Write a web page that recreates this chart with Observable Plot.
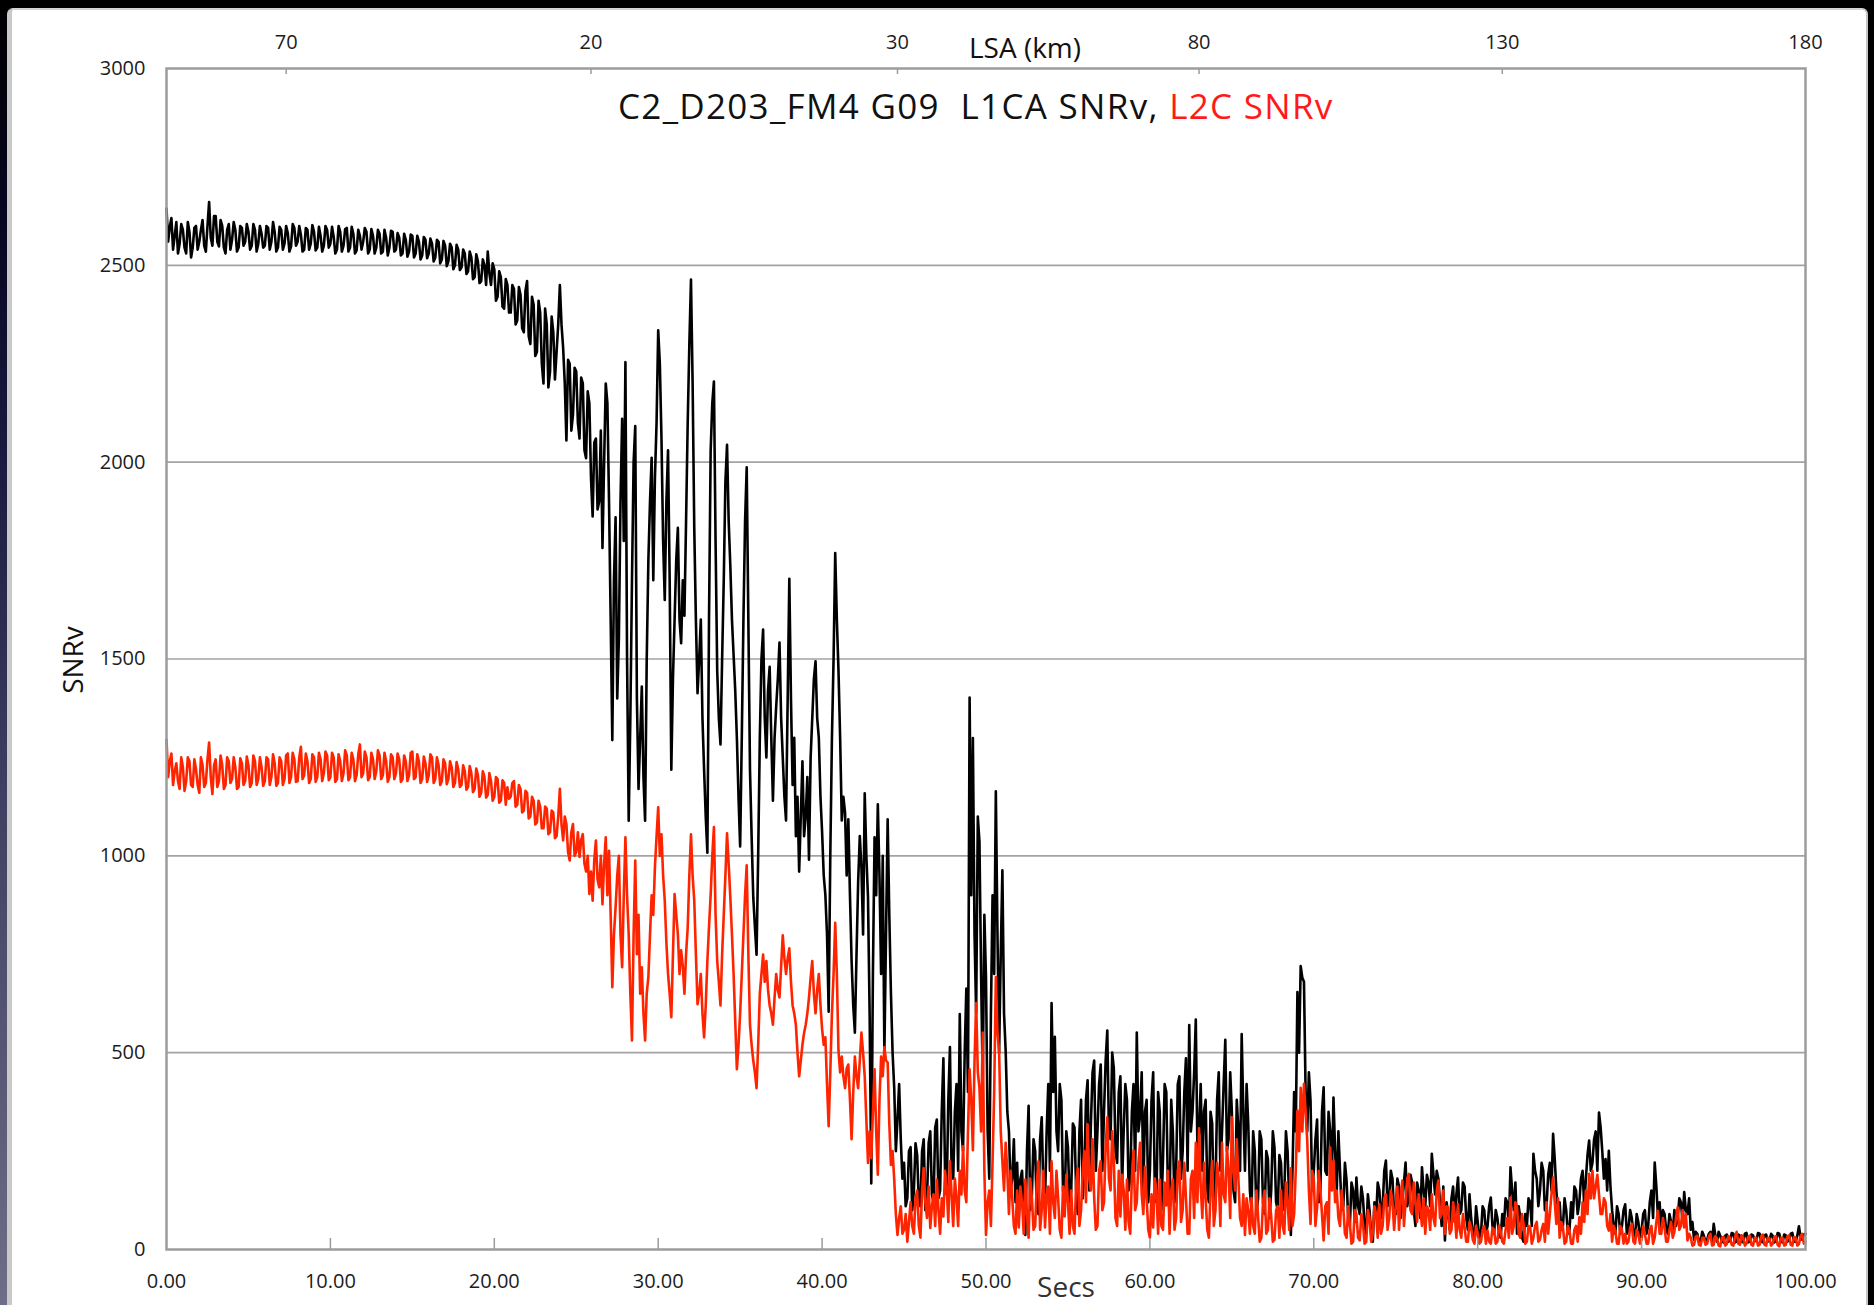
<!DOCTYPE html>
<html>
<head>
<meta charset="utf-8">
<script src="https://cdn.jsdelivr.net/npm/d3@7"></script>
<script src="https://cdn.jsdelivr.net/npm/@observablehq/plot@0.6"></script>
<style>
html,body{margin:0;padding:0;background:#000;}
body{width:1874px;height:1305px;position:relative;overflow:hidden;font-family:"Open Sans",sans-serif;}
#strip{position:absolute;left:0;top:0;width:8px;height:1305px;background:linear-gradient(#000 0%,#05051e 15%,#1a1a40 35%,#3e3e60 60%,#6e6e88 100%);}
#panel{position:absolute;left:7px;top:8px;width:1861px;height:1310px;background:#fff;border-left:5px solid #c9c9c9;border-top:2px solid #d4d4d4;border-right:2px solid #c4c4c4;border-radius:6px 6px 0 0;box-sizing:border-box;}
#chart{position:absolute;left:0;top:0;}
.lbl{position:absolute;color:#111;white-space:nowrap;line-height:1;}
</style>
</head>
<body>
<div id="strip"></div>
<div id="panel"></div>
<div id="chart"></div>
<div class="lbl" id="title" style="left:618px;top:88px;font-size:35px;letter-spacing:1.3px;">C2_D203_FM4 G09&nbsp; L1CA SNRv, <span style="color:#ff1a1a">L2C SNRv</span></div>
<div class="lbl" style="left:1025px;top:33px;font-size:28px;transform:translateX(-50%);">LSA (km)</div>
<div class="lbl" style="left:1066px;top:1272px;font-size:28px;color:#333;transform:translateX(-50%);">Secs</div>
<div class="lbl" style="left:72px;top:660px;font-size:28px;transform:translate(-50%,-50%) rotate(-90deg);">SNRv</div>
<script>
// sample spacing in seconds: "on" samples at 0.0, 0.2, … 100.0 and
// "mid" samples at 0.1, 0.3, … 99.9 (one row per second)
const dt = 0.2;

// L1CA SNRv (black), samples at whole steps
const l1caSnr = [
  2644, 2598, 2540, 2610, 2555,
  2590, 2530, 2585, 2545, 2600,
  2560, 2615, 2535, 2661, 2550,
  2625, 2548, 2600, 2530, 2605,
  2565, 2590, 2545, 2595, 2560,
  2585, 2550, 2590, 2555, 2580,
  2550, 2595, 2560, 2585, 2545,
  2590, 2555, 2582, 2548, 2595,
  2560, 2578, 2540, 2590, 2555,
  2585, 2545, 2575, 2550, 2590,
  2555, 2572, 2540, 2585, 2550,
  2595, 2545, 2580, 2538, 2575,
  2560, 2585, 2540, 2575, 2545,
  2580, 2535, 2570, 2545, 2585,
  2540, 2570, 2530, 2565, 2535,
  2575, 2530, 2560, 2525, 2565,
  2530, 2555, 2520, 2560, 2515,
  2550, 2510, 2545, 2500, 2540,
  2495, 2530, 2485, 2520, 2470,
  2510, 2460, 2500, 2535, 2450,
  2490, 2420, 2470, 2390, 2450,
  2380, 2440, 2360, 2425, 2330,
  2460, 2300, 2400, 2280, 2380,
  2200, 2350, 2230, 2330, 2280,
  2450, 2290, 2055, 2250, 2120,
  2230, 2060, 2200, 2010, 2150,
  1862, 2060, 1900, 1782, 2200,
  1900, 1294, 1860, 1550, 2110,
  2254, 1089, 1700, 2092, 1170,
  1430, 1089, 1750, 2011, 1960,
  2335, 2060, 1650, 2030, 1219,
  1600, 1833, 1540, 1610, 2100,
  2464, 1833, 1413, 1600, 1219,
  1008, 2028, 2205, 1470, 1283,
  1700, 2044, 1737, 1510, 1300,
  1024, 1600, 1987, 1219, 895,
  749, 1300, 1575, 1250, 1480,
  1140, 1380, 1542, 1250, 1090,
  1704, 1180, 1050, 960, 1240,
  1100, 990, 1350, 1494, 1300,
  1060, 900, 604, 1300, 1769,
  1470, 1090, 1110, 1093, 733,
  551, 935, 970, 1159, 895,
  168, 1047, 1131, 700, 500,
  1093, 650, 411, 330, 280,
  220, 130, 260, 150, 240,
  110, 280, 130, 300, 120,
  330, 150, 486, 140, 514,
  180, 420, 598, 250, 663,
  1402, 1299, 600, 1037, 420,
  691, 180, 900, 1164, 500,
  963, 505, 300, 180, 120,
  80, 200, 37, 365, 140,
  250, 90, 336, 120, 420,
  626, 540, 250, 380, 120,
  260, 150, 310, 90, 380,
  200, 430, 320, 480, 300,
  470, 350, 556, 280, 460,
  220, 440, 300, 380, 180,
  420, 551, 340, 150, 380,
  200, 450, 120, 350, 230,
  400, 110, 300, 200, 440,
  250, 486, 570, 350, 584,
  300, 200, 380, 120, 320,
  150, 450, 300, 533, 280,
  350, 120, 300, 547, 200,
  320, 100, 250, 130, 280,
  90, 230, 150, 260, 100,
  220, 140, 250, 37, 400,
  654, 720, 680, 300, 378,
  200, 330, 150, 412, 190,
  300, 386, 150, 200, 110,
  175, 60, 150, 183, 90,
  130, 40, 100, 20, 80,
  150, 110, 226, 130, 180,
  90, 160, 120, 221, 140,
  170, 60, 150, 209, 110,
  170, 243, 140, 180, 60,
  23, 90, 130, 70, 183,
  100, 160, 50, 80, 30,
  70, 40, 100, 60, 132,
  40, 80, 30, 60, 120,
  209, 100, 40, 80, 20,
  60, 120, 243, 180, 150,
  200, 110, 220, 294, 150,
  120, 60, 100, 50, 80,
  150, 120, 200, 180, 277,
  220, 300, 348, 250, 230,
  251, 100, 40, 90, 60,
  115, 50, 80, 30, 70,
  50, 100, 60, 150, 221,
  80, 50, 90, 40, 70,
  100, 80, 120, 146, 90,
  50, 25, 40, 20, 35,
  25, 45, 65, 20, 35,
  18, 38, 22, 40, 20,
  35, 18, 42, 20, 36,
  22, 40, 18, 38, 20,
  35, 22, 40, 18, 36,
  24, 42, 20, 59, 25,
  40
];

// L1CA SNRv (black), mid samples
const l1caMid = [
  2560, 2620, 2575, 2530, 2605,
  2545, 2610, 2520, 2595, 2540,
  2590, 2550, 2600, 2570, 2625,
  2560, 2615, 2545, 2590, 2540,
  2610, 2535, 2600, 2550, 2605,
  2540, 2605, 2535, 2600, 2545,
  2600, 2540, 2610, 2535, 2598,
  2540, 2600, 2535, 2605, 2550,
  2600, 2535, 2595, 2540, 2602,
  2538, 2598, 2535, 2600, 2545,
  2598, 2530, 2600, 2535, 2592,
  2535, 2598, 2530, 2590, 2540,
  2595, 2530, 2592, 2530, 2590,
  2530, 2590, 2525, 2588, 2535,
  2582, 2525, 2580, 2522, 2578,
  2520, 2575, 2515, 2572, 2518,
  2568, 2510, 2565, 2505, 2562,
  2498, 2555, 2490, 2552, 2488,
  2540, 2478, 2535, 2465, 2528,
  2455, 2515, 2450, 2480, 2505,
  2410, 2485, 2395, 2465, 2380,
  2450, 2350, 2445, 2340, 2435,
  2320, 2420, 2270, 2410, 2250,
  2390, 2190, 2370, 2210, 2350,
  2350, 2200, 2260, 2080, 2240,
  2100, 2215, 2030, 2180, 1960,
  2050, 1880, 2080, 2000, 2150,
  1600, 1700, 1400, 1900, 1800,
  1500, 1350, 2000, 1400, 1300,
  1200, 1500, 1900, 1700, 2100,
  2250, 1800, 1900, 1700, 1450,
  1750, 1600, 1700, 1850, 2300,
  2200, 1600, 1500, 1350, 1100,
  1600, 2150, 1800, 1350, 1500,
  1950, 1850, 1600, 1420, 1150,
  1300, 1850, 1600, 1050, 820,
  1000, 1500, 1350, 1420, 1300,
  1300, 1450, 1350, 1150, 1400,
  1400, 1300, 1150, 1100, 1050,
  1200, 1250, 1450, 1350, 1150,
  950, 800, 1000, 1500, 1600,
  1300, 1150, 950, 900, 620,
  750, 1050, 800, 1000, 600,
  700, 900, 950, 1000, 800,
  850, 500, 250, 420, 180,
  110, 250, 100, 270, 120,
  250, 100, 270, 140, 310,
  130, 350, 200, 380, 200,
  350, 200, 300, 500, 400,
  900, 800, 1100, 700, 850,
  300, 600, 700, 800, 750,
  600, 350, 150, 280, 220,
  180, 90, 250, 100, 280,
  100, 280, 150, 300, 200,
  400, 300, 420, 150, 300,
  120, 320, 150, 300, 130,
  380, 150, 450, 200, 420,
  200, 480, 300, 500, 250,
  400, 160, 420, 150, 350,
  200, 300, 450, 350, 120,
  380, 150, 400, 100, 420,
  150, 380, 120, 420, 180,
  400, 200, 300, 450, 250,
  420, 350, 150, 350, 100,
  380, 200, 420, 250, 450,
  150, 380, 200, 350, 420,
  150, 300, 90, 300, 120,
  250, 80, 300, 120, 240,
  100, 300, 120, 200, 300,
  500, 690, 400, 450, 150,
  280, 120, 350, 200, 350,
  180, 250, 300, 100, 220,
  80, 170, 70, 110, 160,
  60, 140, 40, 120, 170,
  80, 200, 110, 200, 90,
  180, 80, 170, 110, 190,
  100, 170, 80, 150, 190,
  110, 190, 200, 120, 160,
  120, 50, 160, 140, 90,
  170, 80, 140, 40, 110,
  30, 110, 40, 110, 60,
  100, 40, 90, 130, 60,
  150, 170, 110, 30, 90,
  130, 60, 200, 110, 220,
  100, 190, 150, 230, 90,
  50, 130, 40, 120, 160,
  90, 180, 110, 240, 200,
  280, 200, 310, 180, 150,
  160, 60, 110, 40, 100,
  40, 100, 40, 90, 30,
  90, 40, 120, 80, 160,
  120, 100, 50, 90, 40,
  60, 130, 70, 100, 130,
  70, 45, 20, 45, 18,
  40, 20, 35, 45, 20,
  35, 20, 42, 18, 38,
  20, 40, 18, 38, 22,
  42, 20, 36, 22, 40,
  18, 42, 20, 38, 20,
  40, 20, 35, 30, 38
];

// L2C SNRv (red), samples at whole steps
const l2cSnr = [
  1295, 1240, 1180, 1235, 1170,
  1225, 1190, 1240, 1175, 1220,
  1160, 1230, 1185, 1288, 1157,
  1245, 1190, 1230, 1180, 1240,
  1195, 1225, 1175, 1235, 1190,
  1230, 1185, 1240, 1195, 1225,
  1190, 1245, 1200, 1235, 1185,
  1240, 1195, 1260, 1200, 1245,
  1190, 1277, 1205, 1240, 1195,
  1250, 1200, 1245, 1210, 1255,
  1200, 1250, 1195, 1240, 1210,
  1255, 1200, 1245, 1205, 1283,
  1210, 1250, 1200, 1245, 1215,
  1255, 1205, 1240, 1200, 1250,
  1210, 1245, 1195, 1240, 1205,
  1265, 1200, 1240, 1195, 1235,
  1205, 1250, 1195, 1230, 1190,
  1235, 1195, 1225, 1185, 1220,
  1180, 1215, 1175, 1210, 1170,
  1205, 1160, 1200, 1155, 1190,
  1150, 1195, 1140, 1185, 1174,
  1150, 1190, 1130, 1170, 1115,
  1160, 1100, 1140, 1085, 1125,
  1070, 1120, 1060, 1110, 1050,
  1170, 1039, 1080, 988, 1081,
  1010, 997, 1055, 960, 903,
  886, 1039, 920, 877, 1047,
  1013, 666, 869, 1000, 717,
  1047, 800, 531, 988, 850,
  717, 531, 692, 900, 971,
  1123, 1055, 886, 700, 590,
  903, 801, 760, 650, 818,
  1055, 886, 623, 700, 539,
  733, 900, 1073, 733, 620,
  850, 1057, 895, 700, 458,
  600, 800, 976, 571, 480,
  410, 650, 749, 733, 620,
  571, 700, 640, 798, 700,
  765, 620, 571, 440, 520,
  571, 640, 733, 600, 700,
  560, 539, 313, 600, 830,
  505, 490, 410, 470, 280,
  490, 410, 551, 440, 220,
  232, 458, 190, 490, 514,
  475, 215, 178, 37, 110,
  50, 20, 120, 40, 150,
  30, 206, 80, 55, 140,
  178, 40, 84, 160, 224,
  60, 131, 200, 262, 120,
  458, 252, 626, 411, 551,
  37, 150, 224, 692, 505,
  224, 271, 90, 131, 40,
  56, 120, 178, 30, 131,
  60, 224, 100, 56, 160,
  224, 80, 131, 30, 84,
  120, 150, 40, 206, 100,
  250, 318, 150, 131, 60,
  224, 120, 336, 150, 224,
  60, 84, 150, 178, 40,
  252, 120, 271, 90, 131,
  30, 56, 150, 178, 50,
  112, 40, 178, 80, 224,
  100, 131, 40, 200, 271,
  308, 80, 131, 30, 224,
  100, 180, 271, 120, 200,
  336, 150, 178, 60, 37,
  100, 131, 40, 84, 30,
  150, 50, 84, 25, 110,
  150, 40, 120, 206, 90,
  353, 411, 421, 277, 65,
  178, 107, 150, 23, 120,
  259, 225, 150, 60, 107,
  30, 65, 20, 90, 23,
  65, 20, 80, 40, 90,
  115, 60, 140, 80, 120,
  107, 50, 175, 120, 192,
  90, 125, 140, 60, 40,
  100, 140, 60, 175, 90,
  40, 107, 50, 90, 115,
  30, 56, 20, 56, 15,
  40, 20, 60, 48, 15,
  50, 20, 48, 15, 80,
  132, 60, 107, 30, 65,
  20, 56, 30, 70, 25,
  65, 120, 90, 183, 65,
  30, 56, 20, 48, 15,
  60, 82, 120, 150, 192,
  200, 160, 140, 90, 120,
  48, 20, 48, 15, 50,
  40, 20, 65, 15, 40,
  25, 40, 15, 60, 30,
  98, 40, 56, 20, 70,
  45, 107, 60, 56, 23,
  30, 12, 35, 10, 30,
  15, 40, 12, 28, 8,
  32, 14, 30, 10, 45,
  12, 30, 15, 35, 10,
  30, 12, 38, 10, 28,
  15, 34, 8, 30, 12,
  36, 10, 30, 14, 40,
  20
];

// L2C SNRv (red), mid samples
const l2cMid = [
  1200, 1260, 1215, 1190, 1250,
  1165, 1250, 1180, 1245, 1180,
  1250, 1175, 1245, 1200, 1230,
  1175, 1255, 1170, 1250, 1185,
  1250, 1170, 1248, 1180, 1252,
  1175, 1255, 1180, 1250, 1178,
  1250, 1180, 1258, 1178, 1250,
  1180, 1255, 1185, 1262, 1188,
  1250, 1195, 1260, 1185, 1258,
  1188, 1262, 1190, 1265, 1192,
  1262, 1188, 1258, 1190, 1268,
  1192, 1262, 1190, 1258, 1200,
  1265, 1192, 1262, 1195, 1268,
  1195, 1262, 1188, 1258, 1195,
  1260, 1188, 1255, 1190, 1262,
  1195, 1258, 1185, 1252, 1188,
  1258, 1185, 1250, 1180, 1245,
  1182, 1240, 1175, 1238, 1175,
  1230, 1168, 1228, 1162, 1222,
  1150, 1215, 1148, 1210, 1140,
  1200, 1135, 1192, 1130, 1145,
  1185, 1125, 1180, 1110, 1165,
  1095, 1150, 1080, 1140, 1070,
  1125, 1055, 1115, 1045, 1100,
  1080, 1100, 1010, 1060, 1000,
  1060, 1040, 980, 1000, 960,
  990, 940, 1000, 980, 900,
  850, 800, 950, 800, 900,
  900, 650, 800, 750, 650,
  600, 650, 800, 850, 1050,
  1000, 950, 780, 650, 750,
  850, 700, 720, 750, 950,
  950, 750, 650, 600, 620,
  820, 1000, 850, 680, 750,
  950, 980, 800, 580, 520,
  700, 900, 750, 520, 450,
  520, 700, 680, 660, 600,
  640, 660, 720, 740, 740,
  680, 600, 500, 480, 550,
  600, 690, 650, 660, 620,
  520, 420, 450, 700, 700,
  450, 440, 460, 380, 400,
  440, 480, 500, 330, 300,
  350, 300, 380, 440, 480,
  320, 250, 90, 80, 40,
  90, 70, 60, 130, 60,
  150, 120, 160, 110, 60,
  100, 130, 200, 70, 140,
  180, 60, 140, 150, 300,
  380, 480, 450, 300, 200,
  120, 60, 400, 550, 300,
  150, 200, 200, 60, 150,
  160, 40, 90, 180, 50,
  170, 50, 200, 140, 40,
  120, 200, 50, 160, 190,
  40, 60, 170, 60, 200,
  120, 180, 280, 50, 200,
  100, 260, 180, 300, 80,
  200, 190, 50, 70, 180,
  100, 220, 140, 210, 50,
  140, 180, 40, 60, 170,
  200, 150, 50, 200, 70,
  220, 40, 180, 80, 120,
  160, 220, 50, 150, 60,
  220, 60, 140, 260, 80,
  200, 280, 80, 140, 130,
  40, 60, 150, 20, 120,
  40, 130, 20, 100, 30,
  60, 170, 50, 60, 200,
  250, 300, 350, 150, 200,
  60, 200, 90, 110, 40,
  150, 120, 80, 150, 40,
  110, 15, 100, 30, 90,
  15, 100, 20, 110, 30,
  40, 130, 50, 150, 50,
  160, 130, 60, 180, 100,
  170, 70, 100, 130, 110,
  50, 80, 150, 80, 150,
  110, 40, 120, 30, 50,
  90, 20, 70, 25, 60,
  15, 50, 15, 20, 55,
  15, 60, 20, 50, 30,
  40, 120, 40, 90, 15,
  60, 15, 60, 20, 50,
  20, 40, 140, 120, 130,
  70, 15, 60, 15, 50,
  20, 40, 70, 90, 130,
  130, 190, 90, 130, 60,
  90, 60, 15, 60, 15,
  15, 55, 20, 50, 15,
  60, 15, 50, 15, 70,
  40, 80, 20, 50, 30,
  80, 50, 100, 90, 40,
  10, 32, 12, 30, 12,
  32, 10, 34, 10, 30,
  10, 34, 12, 32, 15,
  36, 10, 32, 12, 30,
  10, 34, 12, 30, 10,
  32, 12, 30, 10, 34,
  12, 32, 10, 34, 15
];

// axis ticks
const secsTicks = [0, 10, 20, 30, 40, 50, 60, 70, 80, 90, 100];
const snrTicks = [0, 500, 1000, 1500, 2000, 2500, 3000];
const snrGrid = [500, 1000, 1500, 2000, 2500];
// secondary (top) axis: LSA in km, positioned on the Secs scale
const lsaTickSecs = [7.3, 25.9, 44.6, 63.0, 81.5, 100];
const lsaTickLabels = ["70", "20", "30", "80", "130", "180"];

function series(on, mid) {
  const out = [];
  on.forEach((v, i) => {
    out.push({t: i * dt, v});
    if (i < mid.length) out.push({t: i * dt + dt / 2, v: mid[i]});
  });
  return out;
}
const l1ca = series(l1caSnr, l1caMid);
const l2c = series(l2cSnr, l2cMid);
const lsaLabel = new Map(lsaTickSecs.map((s, i) => [s, lsaTickLabels[i]]));

const W = 1874, H = 1305, mL = 166, mR = 69, mT = 68, mB = 56;
const innerH = H - mT - mB;

const chart = Plot.plot({
  width: W,
  height: H,
  marginLeft: mL,
  marginRight: mR,
  marginTop: mT,
  marginBottom: mB,
  x: {domain: [0, 100]},
  y: {domain: [0, 3000]},
  style: {background: "transparent", fontFamily: "'Open Sans', sans-serif", fontSize: "20px", color: "#1c1c1c", overflow: "visible"},
  marks: [
    Plot.gridY(snrGrid, {stroke: "#a3a3a3", strokeOpacity: 1, strokeWidth: 1.6}),
    Plot.line(l1ca, {x: "t", y: "v", stroke: "#000", strokeWidth: 2.6}),
    Plot.line(l2c, {x: "t", y: "v", stroke: "#ff2400", strokeWidth: 2.6}),
    Plot.ruleX(secsTicks.slice(1, -1), {stroke: "#9c9c9c", strokeWidth: 1.5, insetTop: innerH - 11}),
    Plot.ruleX(lsaTickSecs.slice(0, -1), {stroke: "#9c9c9c", strokeWidth: 1.5, insetBottom: innerH - 6}),
    Plot.frame({stroke: "#9c9c9c", strokeWidth: 2.5}),
    Plot.axisY(snrTicks, {tickSize: 0, tickPadding: 21, label: null, fill: "#1c1c1c", tickFormat: d => String(d)}),
    Plot.axisX(secsTicks, {anchor: "bottom", tickSize: 0, tickPadding: 24, label: null, fill: "#1c1c1c", tickFormat: d => d.toFixed(2)}),
    Plot.axisX(lsaTickSecs, {anchor: "top", tickSize: 0, tickPadding: 20, label: null, fill: "#1c1c1c", tickFormat: d => lsaLabel.get(d)})
  ]
});
document.getElementById("chart").appendChild(chart);
</script>
</body>
</html>
